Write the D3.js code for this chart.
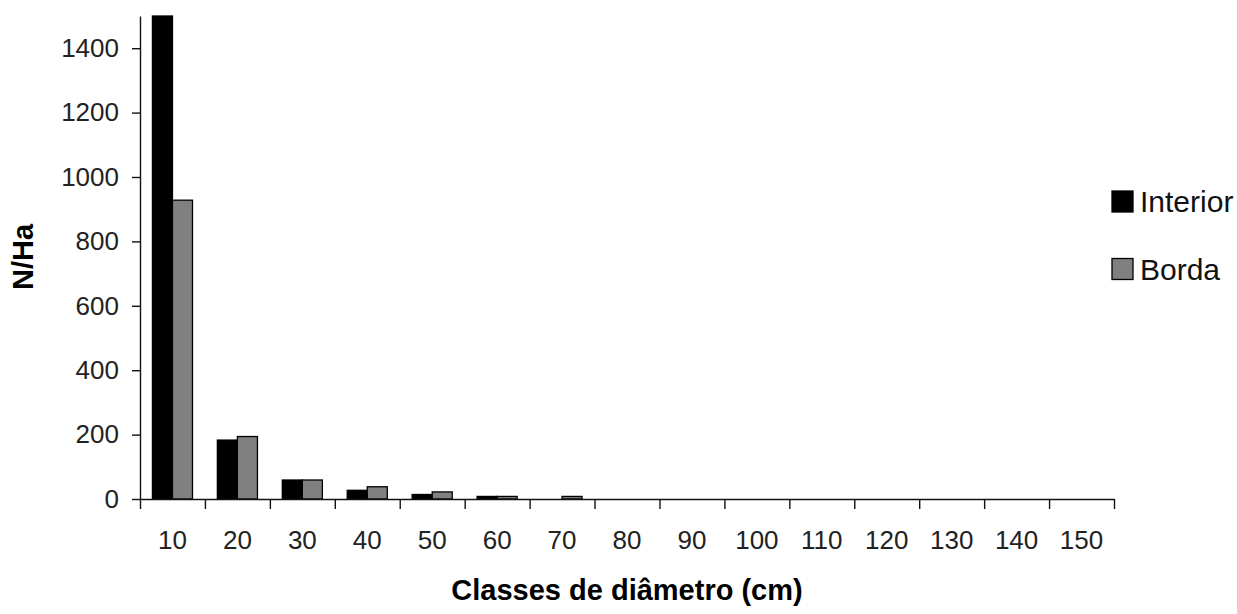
<!DOCTYPE html>
<head>
	<script src="https://d3js.org/d3.v7.min.js"></script>
	<style>
		body {
			margin: 0;
			background: #fff;
		}
		.tick text {
			font-family: "Liberation Sans", Arial, sans-serif;
			font-size: 26px;
			fill: #222;
		}
		.title {
			font-family: "Liberation Sans", Arial, sans-serif;
			font-weight: bold;
			fill: #000;
		}
		.legend {
			font-family: "Liberation Sans", Arial, sans-serif;
			font-size: 30px;
			fill: #111;
		}
	</style>
</head>
<body>
	<script>
		var classes = ["10", "20", "30", "40", "50", "60", "70", "80", "90", "100", "110", "120", "130", "140", "150"];
		var interior = [1500, 183, 59, 27, 14, 8, 0, 0, 0, 0, 0, 0, 0, 0, 0];
		var borda = [928, 194, 59, 38, 22, 8, 8, 0, 0, 0, 0, 0, 0, 0, 0];
		var seriesNames = ["Interior", "Borda"];
		var seriesColors = ["#000000", "#808080"];
		var yTicks = [0, 200, 400, 600, 800, 1000, 1200, 1400];

		var width = 1237, height = 614;
		var plot = { left: 140, right: 1114, top: 16, bottom: 499 };

		var svg = d3.select("body").append("svg")
			.attr("width", width)
			.attr("height", height);

		// scales
		var xScale = d3.scaleBand()
			.domain(classes)
			.range([plot.left, plot.right])
			.padding(0);
		var subScale = d3.scaleBand()
			.domain(seriesNames)
			.range([0, xScale.bandwidth()])
			.paddingInner(0)
			.paddingOuter(0.62);
		var yScale = d3.scaleLinear()
			.domain([0, 1500])
			.range([plot.bottom, plot.top])
			.clamp(true);
		var edgeScale = d3.scaleLinear()
			.domain([0, classes.length])
			.range([plot.left, plot.right]);

		// bars
		var rows = classes.map((c, i) => ({ cls: c, values: [interior[i], borda[i]] }));
		var groups = svg.selectAll("g.group")
			.data(rows)
			.enter()
			.append("g")
			.attr("class", "group")
			.attr("transform", d => "translate(" + xScale(d.cls) + ",0)");
		groups.selectAll("rect")
			.data(d => d.values.map((v, k) => ({ name: seriesNames[k], value: v, color: seriesColors[k] })))
			.enter()
			.filter(d => d.value > 0)
			.append("rect")
			.attr("x", d => subScale(d.name))
			.attr("y", d => yScale(d.value))
			.attr("width", subScale.bandwidth())
			.attr("height", d => yScale(0) - yScale(d.value))
			.attr("fill", d => d.color)
			.attr("stroke", "#000")
			.attr("stroke-width", 1.3);

		// y axis
		var yAxis = d3.axisLeft(yScale)
			.tickValues(yTicks)
			.tickFormat(d3.format("d"))
			.tickSize(8)
			.tickSizeOuter(0)
			.tickPadding(13);
		svg.append("g")
			.attr("transform", "translate(" + plot.left + ",0)")
			.call(yAxis);

		// x axis: boundary ticks + centred labels
		svg.append("g")
			.attr("transform", "translate(0," + plot.bottom + ")")
			.call(d3.axisBottom(edgeScale)
				.tickValues(d3.range(classes.length + 1))
				.tickFormat("")
				.tickSize(10)
				.tickSizeOuter(0));
		var gxLabels = svg.append("g")
			.attr("transform", "translate(0," + plot.bottom + ")")
			.call(d3.axisBottom(xScale)
				.tickSize(0)
				.tickPadding(32));
		gxLabels.select(".domain").remove();

		svg.selectAll(".domain, .tick line")
			.attr("stroke", "#111")
			.attr("stroke-width", 1.4);

		// titles
		svg.append("text")
			.attr("class", "title")
			.attr("x", (plot.left + plot.right) / 2)
			.attr("y", 600)
			.attr("text-anchor", "middle")
			.style("font-size", "29px")
			.text("Classes de diâmetro (cm)");
		svg.append("text")
			.attr("class", "title")
			.attr("transform", "translate(33,257) rotate(-90)")
			.attr("text-anchor", "middle")
			.style("font-size", "29px")
			.text("N/Ha");

		// legend
		var legend = svg.selectAll("g.legend-item")
			.data(seriesNames)
			.enter()
			.append("g")
			.attr("class", "legend-item")
			.attr("transform", (d, i) => "translate(1112," + (191 + i * 67.5) + ")");
		legend.append("rect")
			.attr("width", 21)
			.attr("height", 21)
			.attr("fill", (d, i) => seriesColors[i])
			.attr("stroke", "#000")
			.attr("stroke-width", 1.3);
		legend.append("text")
			.attr("class", "legend")
			.attr("x", 28)
			.attr("y", 21)
			.text(d => d);
	</script>
</body>
</html>
